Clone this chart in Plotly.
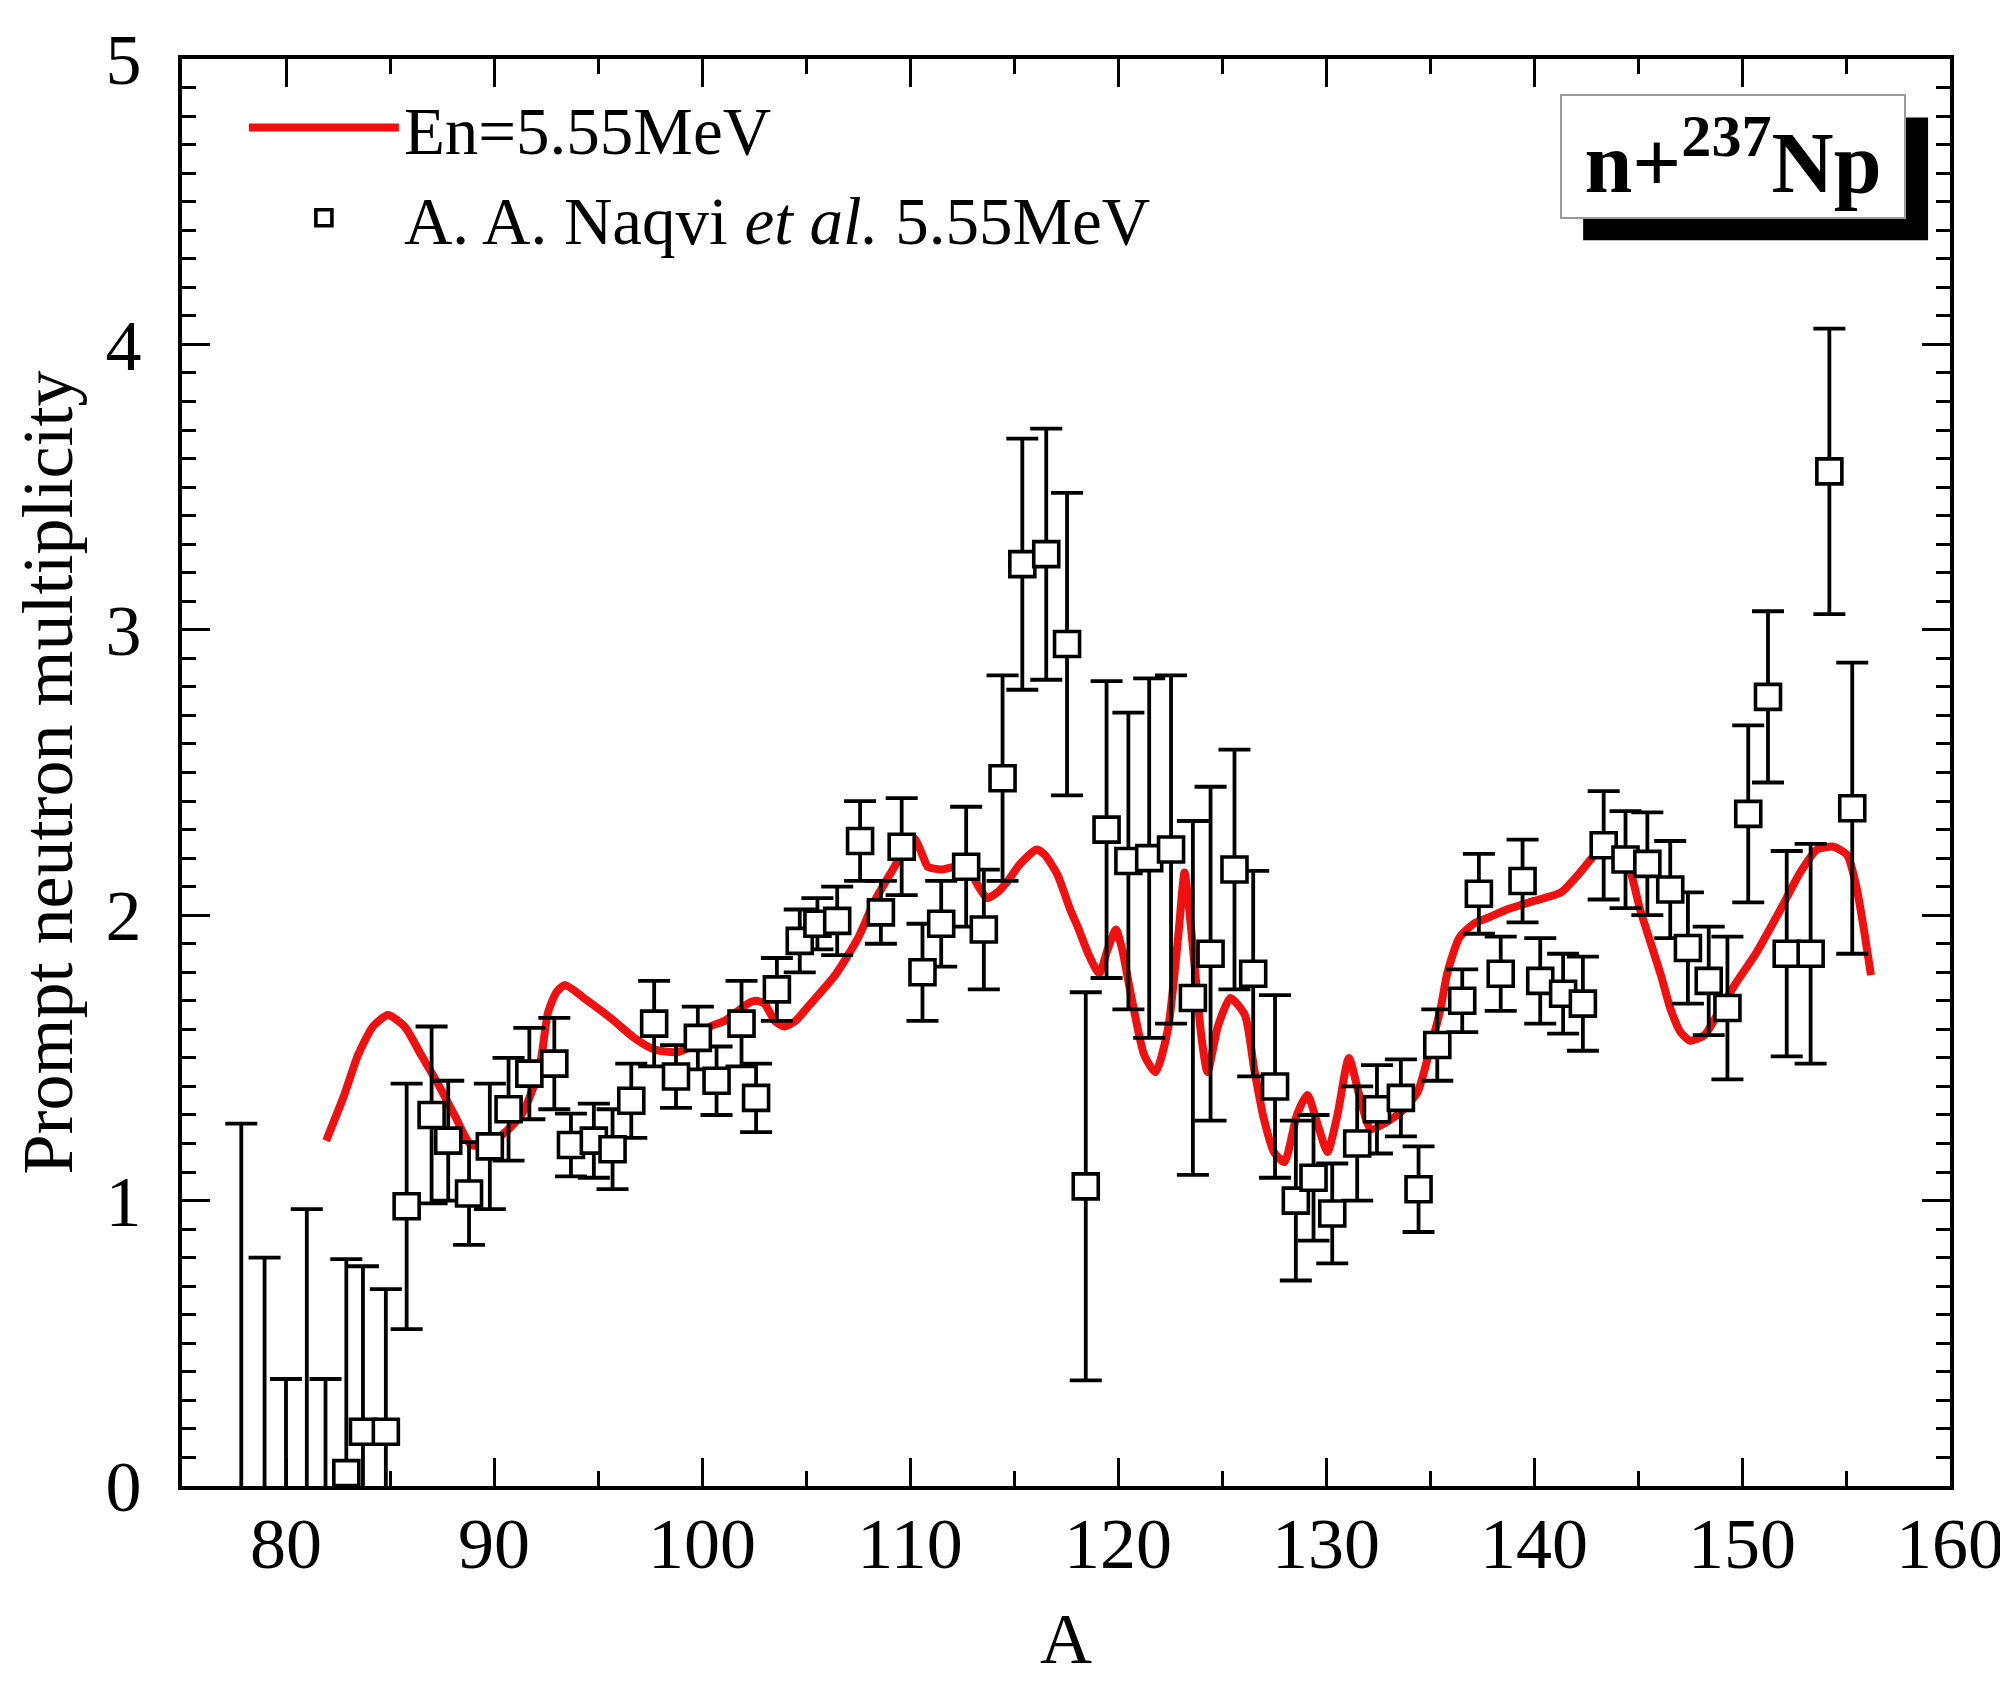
import plotly.graph_objects as go

# Messpunkte (A. A. Naqvi et al., En = 5.55 MeV)
# die ersten fuenf Punkte liegen unterhalb der Achse, nur die Fehlerbalken sind zu sehen
A_exp = [77.85, 78.97, 80.0, 81.0, 81.9, 82.9, 83.7, 84.8, 85.8, 87.0,
         87.8, 88.8, 89.8, 90.7, 91.7, 92.9, 93.7, 94.8, 95.7, 96.6,
         97.7, 98.75, 99.8, 100.7, 101.9, 102.6, 103.6, 104.7, 105.55, 106.5,
         107.6, 108.6, 109.6, 110.6, 111.5, 112.7, 113.55, 114.45, 115.4, 116.55,
         117.55, 118.45, 119.45, 120.5, 121.5, 122.55, 123.6, 124.45, 125.6, 126.5,
         127.55, 128.55, 129.4, 130.3, 131.5, 132.45, 133.6, 134.45, 135.35, 136.55,
         137.35, 138.4, 139.45, 140.3, 141.4, 142.35, 143.35, 144.4, 145.45, 146.55,
         147.4, 148.4, 149.3, 150.3, 151.25, 152.15, 153.3, 154.2, 155.3]
nu_exp = [-0.3, -0.3, -0.3, -0.3, -0.3, 0.045, 0.19, 0.19, 0.98, 1.30,
          1.21, 1.025, 1.19, 1.32, 1.445, 1.48, 1.195, 1.21, 1.18, 1.35,
          1.62, 1.435, 1.57, 1.42, 1.62, 1.36, 1.74, 1.91, 1.97, 1.98,
          2.26, 2.01, 2.24, 1.80, 1.97, 2.17, 1.95, 2.48, 3.23, 3.265,
          2.95, 1.05, 2.30, 2.19, 2.20, 2.23, 1.71, 1.865, 2.16, 1.795,
          1.40, 1.00, 1.08, 0.955, 1.20, 1.32, 1.36, 1.04, 1.545, 1.70,
          2.075, 1.795, 2.12, 1.77, 1.725, 1.69, 2.245, 2.195, 2.18, 2.09,
          1.885, 1.77, 1.675, 2.355, 2.765, 1.865, 1.865, 3.555, 2.375]
err_exp = [1.57, 1.10, 0.675, 1.27, 0.675, 0.75, 0.58, 0.50, 0.43, 0.31,
           0.21, 0.18, 0.22, 0.18, 0.16, 0.16, 0.11, 0.13, 0.14, 0.13,
           0.15, 0.11, 0.11, 0.12, 0.15, 0.12, 0.11, 0.11, 0.09, 0.12,
           0.14, 0.11, 0.17, 0.17, 0.15, 0.21, 0.21, 0.36, 0.44, 0.44,
           0.53, 0.68, 0.52, 0.52, 0.63, 0.61, 0.62, 0.585, 0.42, 0.36,
           0.32, 0.28, 0.22, 0.175, 0.2, 0.155, 0.135, 0.15, 0.125, 0.11,
           0.14, 0.13, 0.145, 0.15, 0.14, 0.165, 0.19, 0.17, 0.18, 0.17,
           0.195, 0.19, 0.25, 0.31, 0.30, 0.36, 0.385, 0.50, 0.51]

# Rechnung (rote Kurve)
A_calc = [81.93, 82.8, 83.46, 84.18, 84.9, 85.7, 86.5, 87.3, 88.1, 88.9,
          89.8, 90.7, 91.4, 92.0, 92.27, 92.6, 93.0, 93.4, 94.5, 95.6,
          96.75, 97.7, 98.8, 99.95, 100.4, 101.1, 102.2, 102.6, 103.0, 103.5,
          103.96, 104.5, 105.1, 106.4, 107.5, 108.3, 109.25, 109.8, 110.2, 110.6,
          110.85, 111.5, 112.2, 112.8, 113.3, 113.7, 114.2, 114.7, 115.3, 116.1,
          116.5, 117.1, 117.7, 118.06, 118.6, 119.1, 119.5, 119.9, 120.2, 120.6,
          121.26, 121.8, 122.4, 122.9, 123.2, 123.45, 123.7, 124.0, 124.3, 124.8,
          125.4, 126.1, 126.55, 127.0, 127.5, 128.0, 128.6, 129.1, 129.67, 130.07,
          130.55, 131.1, 131.6, 132.15, 132.8, 133.6, 134.4, 135.0, 135.5, 135.84,
          136.4, 137.1, 137.76, 138.7, 140.0, 141.3, 142.1, 142.9, 143.5, 144.2,
          144.65, 145.1, 145.6, 146.1, 146.57, 147.05, 147.5, 148.2, 148.8, 149.6,
          150.7, 151.85, 152.8, 153.6, 154.4, 155.06, 155.5, 155.86, 156.2]
nu_calc = [1.21, 1.37, 1.51, 1.61, 1.65, 1.61, 1.51, 1.41, 1.30, 1.195,
           1.20, 1.25, 1.31, 1.42, 1.50, 1.66, 1.73, 1.755, 1.70, 1.64,
           1.57, 1.53, 1.52, 1.56, 1.61, 1.63, 1.69, 1.70, 1.69, 1.63,
           1.61, 1.63, 1.68, 1.79, 1.92, 2.05, 2.17, 2.24, 2.27, 2.21,
           2.17, 2.16, 2.17, 2.16, 2.10, 2.06, 2.08, 2.12, 2.18, 2.23,
           2.21, 2.14, 2.02, 1.96, 1.86, 1.795, 1.88, 1.95, 1.88, 1.73,
           1.51, 1.45, 1.60, 1.93, 2.15, 2.00, 1.81, 1.58, 1.45, 1.61,
           1.71, 1.65, 1.46, 1.29, 1.17, 1.135, 1.30, 1.37, 1.25, 1.17,
           1.30, 1.50, 1.37, 1.25, 1.27, 1.31, 1.38, 1.53, 1.67, 1.80,
           1.92, 1.97, 1.99, 2.02, 2.05, 2.08, 2.14, 2.21, 2.25, 2.22,
           2.15, 2.02, 1.905, 1.79, 1.67, 1.59, 1.56, 1.58, 1.65, 1.75,
           1.87, 2.02, 2.15, 2.23, 2.24, 2.21, 2.10, 1.95, 1.79]

x_ticks = [80, 90, 100, 110, 120, 130, 140, 150, 160]
y_ticks = [0, 1, 2, 3, 4, 5]

FONT = "Liberation Serif, Times New Roman, serif"

fig = go.Figure()

# rote Kurve zuerst, damit die Quadrate darueber liegen
fig.add_trace(go.Scatter(
    x=A_calc,
    y=nu_calc,
    mode="lines",
    name="En=5.55MeV",
    line=dict(color="#f01010", width=8, shape="spline", smoothing=0.6)
))

fig.add_trace(go.Scatter(
    x=A_exp,
    y=nu_exp,
    mode="markers",
    name="A. A. Naqvi <i>et al.</i> 5.55MeV",
    marker=dict(symbol="square", size=25, color="white",
                line=dict(color="black", width=3.6)),
    error_y=dict(type="data", array=err_exp, visible=True,
                 color="black", thickness=3.8, width=16)
))

axis_common = dict(
    showline=True, linecolor="black", linewidth=4, mirror="ticks",
    ticks="inside", tickwidth=3, tickcolor="black",
    showgrid=False, zeroline=False,
    tickfont=dict(family=FONT, size=72, color="black"),
    title_font=dict(family=FONT, size=72, color="black"),
)

fig.update_layout(
    width=2008, height=1681,
    margin=dict(l=174, r=65, t=49, b=203),
    paper_bgcolor="white", plot_bgcolor="white",
    font=dict(family=FONT, color="black"),
    xaxis=dict(
        axis_common,
        range=[75, 160],
        tickvals=x_ticks,
        ticklen=28,
        minor=dict(dtick=5, tick0=75, ticklen=15, tickwidth=3, ticks="inside", tickcolor="black"),
        ticklabelstandoff=-8,
        title=dict(text="A", standoff=30),
    ),
    yaxis=dict(
        axis_common,
        range=[0, 5],
        tickvals=y_ticks,
        ticklen=28,
        minor=dict(dtick=0.1, ticklen=14, tickwidth=3, ticks="inside", tickcolor="black"),
        ticklabelstandoff=22,
        title=dict(text="Prompt neutron multiplicity", standoff=10),
    ),
    legend=dict(
        x=0.035, y=0.987, xanchor="left", yanchor="top",
        itemwidth=150,
        bgcolor="rgba(0,0,0,0)", borderwidth=0,
        font=dict(family=FONT, size=67, color="black"),
        tracegroupgap=0,
    ),
    showlegend=True,
)

# Schatten hinter dem Beschriftungskasten
fig.add_shape(
    type="rect", xref="paper", yref="paper",
    x0=0.7925, x1=0.9876, y0=0.873, y1=0.959,
    fillcolor="black", line_width=0, layer="above"
)

# Kasten mit n+237Np
fig.add_annotation(
    xref="paper", yref="paper", x=0.877, y=0.9315,
    xanchor="center", yanchor="middle",
    text="<b>n+<sup>237</sup>Np</b>",
    showarrow=False,
    font=dict(family=FONT, size=86, color="black"),
    bgcolor="white", bordercolor="#9a9a9a", borderwidth=2,
    width=342, height=121, borderpad=0,
)

fig.write_html("out.html")
